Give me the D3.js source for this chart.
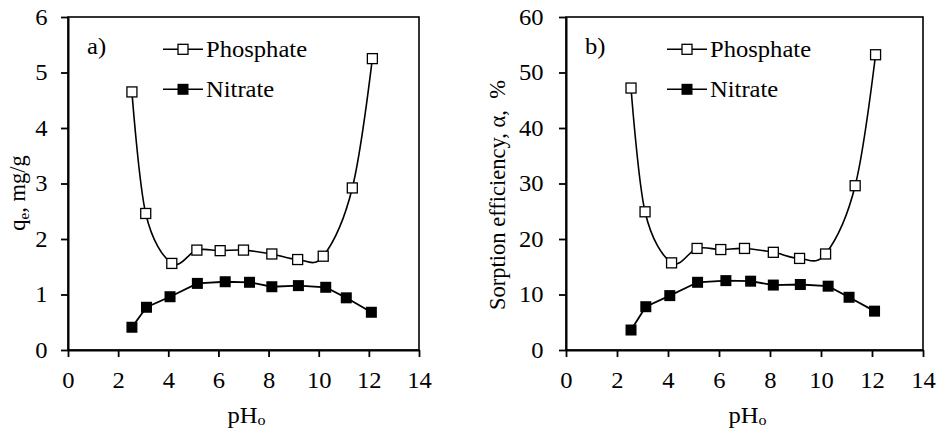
<!DOCTYPE html>
<html>
<head>
<meta charset="utf-8">
<script src="https://cdn.jsdelivr.net/npm/d3@7"></script>
<style>
  body { margin: 0; background: #fff; }
  svg text { font-family: "Liberation Serif", "Times New Roman", Times, serif; fill: #000; }
</style>
</head>
<body>
<div id="chart"></div>
<script>
// pH values of the experiments
const phosphatePH = [2.55, 3.1, 4.14, 5.14, 6.07, 7.0, 8.13, 9.16, 10.18, 11.34, 12.14];
const nitratePH = [2.55, 3.13, 4.07, 5.16, 6.27, 7.24, 8.13, 9.19, 10.28, 11.1, 12.1];

// a) sorption capacity, mg/g
const phosphateQe = [4.65, 2.46, 1.56, 1.80, 1.79, 1.80, 1.73, 1.63, 1.69, 2.92, 5.25];
const nitrateQe = [0.41, 0.77, 0.96, 1.20, 1.23, 1.22, 1.14, 1.16, 1.13, 0.94, 0.68];

// b) sorption efficiency, %
const phosphateAlpha = [47.2, 24.9, 15.7, 18.3, 18.1, 18.3, 17.6, 16.5, 17.3, 29.6, 53.2];
const nitrateAlpha = [3.6, 7.8, 9.8, 12.2, 12.5, 12.4, 11.7, 11.8, 11.5, 9.5, 7.0];

const xTicks = [0, 2, 4, 6, 8, 10, 12, 14];
const qeTicks = [0, 1, 2, 3, 4, 5, 6];
const alphaTicks = [0, 10, 20, 30, 40, 50, 60];
const seriesNames = ["Phosphate", "Nitrate"];

const W = 936, H = 429;
const FS = 23;
const SX = 1.07; // the original picture is a bit wider than tall
const FONT = '"Liberation Serif", "Times New Roman", Times, serif';

const svg = d3.select("#chart").append("svg")
  .attr("width", W)
  .attr("height", H)
  .attr("font-family", FONT);

function zip(xs, ys) {
  return xs.map((x, i) => ({ x: x, y: ys[i] }));
}

function label(g, x, y, str, anchor) {
  return g.append("text")
    .attr("transform", `translate(${x},${y}) scale(${SX},1)`)
    .attr("text-anchor", anchor || "start")
    .attr("font-size", FS)
    .text(str);
}

function drawPanel(cfg) {
  const x = d3.scaleLinear().domain([0, 14]).range([cfg.left, cfg.right]);
  const y = d3.scaleLinear().domain([cfg.yTicks[0], cfg.yTicks[cfg.yTicks.length - 1]]).range([350, 17]);
  const g = svg.append("g");

  // frame
  g.append("rect")
    .attr("x", cfg.left).attr("y", 17)
    .attr("width", cfg.right - cfg.left).attr("height", 333)
    .attr("fill", "none").attr("stroke", "#000").attr("stroke-width", 1.6);

  const xAxis = g.append("g")
    .attr("transform", "translate(0,350)")
    .call(d3.axisBottom(x).tickValues(xTicks).tickFormat(d3.format("d"))
      .tickSize(7).tickSizeOuter(0).tickPadding(15));
  const yAxis = g.append("g")
    .attr("transform", `translate(${cfg.left},0)`)
    .call(d3.axisLeft(y).tickValues(cfg.yTicks).tickFormat(d3.format("d"))
      .tickSize(7).tickSizeOuter(0).tickPadding(cfg.yPad));

  [xAxis, yAxis].forEach(a => {
    a.attr("font-family", FONT).attr("font-size", FS);
    a.select(".domain").attr("stroke", "#000").attr("stroke-width", 2);
    a.selectAll(".tick line").attr("stroke", "#000").attr("stroke-width", 1.8);
    a.selectAll(".tick text").attr("fill", "#000").attr("transform", `scale(${SX},1)`);
  });

  // lines
  const smooth = d3.line().x(d => x(d.x)).y(d => y(d.y)).curve(d3.curveCardinal.tension(0));
  const straight = d3.line().x(d => x(d.x)).y(d => y(d.y));
  const ph = zip(phosphatePH, cfg.phosphate);
  const ni = zip(nitratePH, cfg.nitrate);

  g.append("path").attr("d", smooth(ph))
    .attr("fill", "none").attr("stroke", "#000").attr("stroke-width", 1.6);
  g.append("path").attr("d", straight(ni))
    .attr("fill", "none").attr("stroke", "#000").attr("stroke-width", 1.8);

  g.selectAll(".ph").data(ph).join("rect")
    .attr("x", d => x(d.x) - 5).attr("y", d => y(d.y) - 5)
    .attr("width", 10).attr("height", 10)
    .attr("fill", "#fff").attr("stroke", "#000").attr("stroke-width", 1.3);
  g.selectAll(".ni").data(ni).join("rect")
    .attr("x", d => x(d.x) - 5.5).attr("y", d => y(d.y) - 5.5)
    .attr("width", 11).attr("height", 11)
    .attr("fill", "#000");

  // legend
  seriesNames.forEach((name, i) => {
    const ly = 49.3 + i * 40;
    g.append("line")
      .attr("x1", cfg.legX).attr("x2", cfg.legX + 40)
      .attr("y1", ly).attr("y2", ly)
      .attr("stroke", "#000").attr("stroke-width", 1.6);
    const s = i === 0 ? 10 : 11;
    g.append("rect")
      .attr("x", cfg.legX + 20 - s / 2).attr("y", ly - s / 2)
      .attr("width", s).attr("height", s)
      .attr("fill", i === 0 ? "#fff" : "#000")
      .attr("stroke", i === 0 ? "#000" : "none").attr("stroke-width", 1.3);
    label(g, cfg.legX + 43, ly + 8, name);
  });

  // panel tag
  label(g, cfg.left + 19, 54, cfg.tag);

  // x title
  const xt = label(g, (cfg.left + cfg.right) / 2 + 3, 423, null, "middle");
  xt.append("tspan").text("pH");
  xt.append("tspan").attr("font-size", 15).attr("dy", 2).text("o");

  // y title
  const yt = g.append("text")
    .attr("transform", `translate(${cfg.titleX},${cfg.titleY}) rotate(-90)`)
    .attr("text-anchor", "middle")
    .attr("font-size", 22.5);
  cfg.title(yt);
}

drawPanel({
  left: 68, right: 419, yPad: 12, tag: "a)", legX: 163,
  yTicks: qeTicks, phosphate: phosphateQe, nitrate: nitrateQe,
  titleX: 25, titleY: 193,
  title: t => {
    t.append("tspan").text("q");
    t.append("tspan").attr("font-size", 15).attr("dy", 4).text("e");
    t.append("tspan").attr("dy", -4).text(", mg/g");
  }
});

drawPanel({
  left: 566, right: 923, yPad: 14, tag: "b)", legX: 667,
  yTicks: alphaTicks, phosphate: phosphateAlpha, nitrate: nitrateAlpha,
  titleX: 505, titleY: 195,
  title: t => {
    t.attr("xml:space", "preserve").text("Sorption efficiency, α,  %");
  }
});
</script>
</body>
</html>
